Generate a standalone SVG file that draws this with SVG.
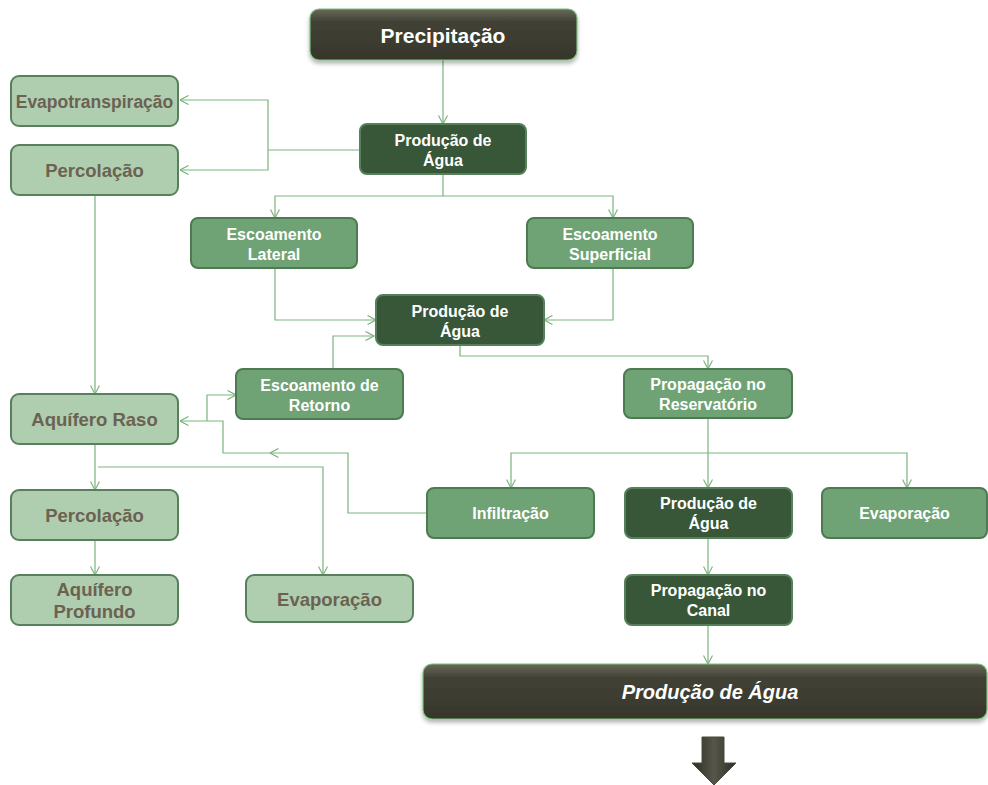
<svg xmlns="http://www.w3.org/2000/svg" width="988" height="785" viewBox="0 0 988 785">
<defs>
<linearGradient id="gDark" x1="0" y1="0" x2="0" y2="1">
<stop offset="0" stop-color="#6a6a5a"/>
<stop offset="0.25" stop-color="#414136"/>
<stop offset="1" stop-color="#36362b"/>
</linearGradient>
<linearGradient id="gArrow" x1="0" y1="0" x2="1" y2="0">
<stop offset="0" stop-color="#2e2e25"/>
<stop offset="0.5" stop-color="#56564a"/>
<stop offset="1" stop-color="#2e2e25"/>
</linearGradient>
<filter id="sh" x="-10%" y="-20%" width="120%" height="150%">
<feDropShadow dx="0" dy="3" stdDeviation="2" flood-color="#000" flood-opacity="0.3"/>
</filter>
<marker id="ah" viewBox="0 0 10 10" refX="9.5" refY="5" markerWidth="10" markerHeight="10" markerUnits="userSpaceOnUse" orient="auto">
<path d="M1,0.5 L9.5,5 L1,9.5" fill="none" stroke="#7cb37e" stroke-width="1.2"/>
</marker>
<style>
.dk{fill:url(#gDark);stroke:#7cc27c;stroke-width:1.2}
.dg{fill:#385638;stroke:#56805a;stroke-width:2}
.md{fill:#6fa274;stroke:#4d7a52;stroke-width:2}
.lt{fill:#afcdaf;stroke:#58805c;stroke-width:2}
.tw{font-family:"Liberation Sans",Arial,sans-serif;font-weight:bold;fill:#ffffff;text-anchor:middle}
.tl{font-family:"Liberation Sans",Arial,sans-serif;font-weight:bold;fill:#6b6252;text-anchor:middle}
.s14{font-size:16px}
.s17{font-size:18.5px}
.c{fill:none;stroke:#7cb37e;stroke-width:1.2}
</style>
</defs>
<g id="connectors">
<path class="c" d="M443,60 V124" marker-end="url(#ah)"/>
<path class="c" d="M360,150 H268"/>
<path class="c" d="M268,150 V100 H180" marker-end="url(#ah)"/>
<path class="c" d="M268,150 V170 H180" marker-end="url(#ah)"/>
<path class="c" d="M443,174 V196"/>
<path class="c" d="M443,196 H275 V218" marker-end="url(#ah)"/>
<path class="c" d="M443,196 H613 V218" marker-end="url(#ah)"/>
<path class="c" d="M275,268 V320 H376" marker-end="url(#ah)"/>
<path class="c" d="M613,268 V320 H544" marker-end="url(#ah)"/>
<path class="c" d="M333,369 V336 H374" marker-end="url(#ah)"/>
<path class="c" d="M460,345 V356 H708 V369" marker-end="url(#ah)"/>
<path class="c" d="M95,195 V394" marker-end="url(#ah)"/>
<path class="c" d="M207,421 V395 H236" marker-end="url(#ah)"/>
<path class="c" d="M427,513 H348 V453 H270" marker-end="url(#ah)"/>
<path class="c" d="M270,453 H223 V421 H180" marker-end="url(#ah)"/>
<path class="c" d="M95,444 V490" marker-end="url(#ah)"/>
<path class="c" d="M98,467 H323 V575" marker-end="url(#ah)"/>
<path class="c" d="M95,540 V575" marker-end="url(#ah)"/>
<path class="c" d="M708,418 V488" marker-end="url(#ah)"/>
<path class="c" d="M708,453 H511 V488" marker-end="url(#ah)"/>
<path class="c" d="M708,453 H907 V488" marker-end="url(#ah)"/>
<path class="c" d="M708,538 V575" marker-end="url(#ah)"/>
<path class="c" d="M708,625 V664" marker-end="url(#ah)"/>
</g>
<g id="precipitacao">
<rect class="dk" x="310" y="9" width="267" height="51" rx="9" filter="url(#sh)"/>
<text class="tw" x="443" y="42.5" font-size="21">Precipitação</text>
</g>
<g id="evapotranspiracao">
<rect class="lt" x="11" y="76" width="167" height="50" rx="8"/>
<text class="tl" x="94.5" y="107.5" font-size="17.5">Evapotranspiração</text>
</g>
<g id="percolacao1">
<rect class="lt" x="11" y="145" width="167" height="50" rx="8"/>
<text class="tl s17" x="94.5" y="177">Percolação</text>
</g>
<g id="producao1">
<rect class="dg" x="360" y="124" width="166" height="50" rx="7"/>
<text class="tw s14" x="443" y="146">Produção de</text>
<text class="tw s14" x="443" y="166">Água</text>
</g>
<g id="escoamento-lateral">
<rect class="md" x="191" y="218" width="166" height="50" rx="7"/>
<text class="tw s14" x="274" y="240">Escoamento</text>
<text class="tw s14" x="274" y="260">Lateral</text>
</g>
<g id="escoamento-superficial">
<rect class="md" x="527" y="218" width="166" height="50" rx="7"/>
<text class="tw s14" x="610" y="240">Escoamento</text>
<text class="tw s14" x="610" y="260">Superficial</text>
</g>
<g id="producao2">
<rect class="dg" x="376" y="295" width="168" height="50" rx="7"/>
<text class="tw s14" x="460" y="317">Produção de</text>
<text class="tw s14" x="460" y="337">Água</text>
</g>
<g id="escoamento-retorno">
<rect class="md" x="236" y="369" width="167" height="50" rx="7"/>
<text class="tw s14" x="319.5" y="391">Escoamento de</text>
<text class="tw s14" x="319.5" y="411">Retorno</text>
</g>
<g id="propagacao-reservatorio">
<rect class="md" x="624" y="369" width="168" height="49" rx="7"/>
<text class="tw s14" x="708" y="390">Propagação no</text>
<text class="tw s14" x="708" y="410">Reservatório</text>
</g>
<g id="aquifero-raso">
<rect class="lt" x="11" y="394" width="167" height="50" rx="8"/>
<text class="tl s17" x="94.5" y="426">Aquífero Raso</text>
</g>
<g id="percolacao2">
<rect class="lt" x="11" y="490" width="167" height="50" rx="8"/>
<text class="tl s17" x="94.5" y="522">Percolação</text>
</g>
<g id="aquifero-profundo">
<rect class="lt" x="11" y="575" width="167" height="50" rx="8"/>
<text class="tl s17" x="94.5" y="596">Aquífero</text>
<text class="tl s17" x="94.5" y="618">Profundo</text>
</g>
<g id="evaporacao1">
<rect class="lt" x="246" y="575" width="167" height="47" rx="8"/>
<text class="tl s17" x="329.5" y="605.5">Evaporação</text>
</g>
<g id="infiltracao">
<rect class="md" x="427" y="488" width="167" height="50" rx="7"/>
<text class="tw s14" x="510.5" y="519">Infiltração</text>
</g>
<g id="producao3">
<rect class="dg" x="625" y="488" width="167" height="50" rx="7"/>
<text class="tw s14" x="708.5" y="509">Produção de</text>
<text class="tw s14" x="708.5" y="529">Água</text>
</g>
<g id="evaporacao2">
<rect class="md" x="822" y="488" width="165" height="50" rx="7"/>
<text class="tw s14" x="904.5" y="519">Evaporação</text>
</g>
<g id="propagacao-canal">
<rect class="dg" x="625" y="575" width="167" height="50" rx="7"/>
<text class="tw s14" x="708.5" y="596">Propagação no</text>
<text class="tw s14" x="708.5" y="616">Canal</text>
</g>
<g id="producao-final">
<rect class="dk" x="423" y="664" width="564" height="55" rx="9" filter="url(#sh)"/>
<text class="tw" x="710" y="699" font-size="20" font-style="italic">Produção de Água</text>
</g>
<g id="seta">
<path d="M702,737 H724 V763 H736 L714,785 L692,763 H702 Z" fill="url(#gArrow)" stroke="#4a4a3e" stroke-width="1"/>
</g>
</svg>
